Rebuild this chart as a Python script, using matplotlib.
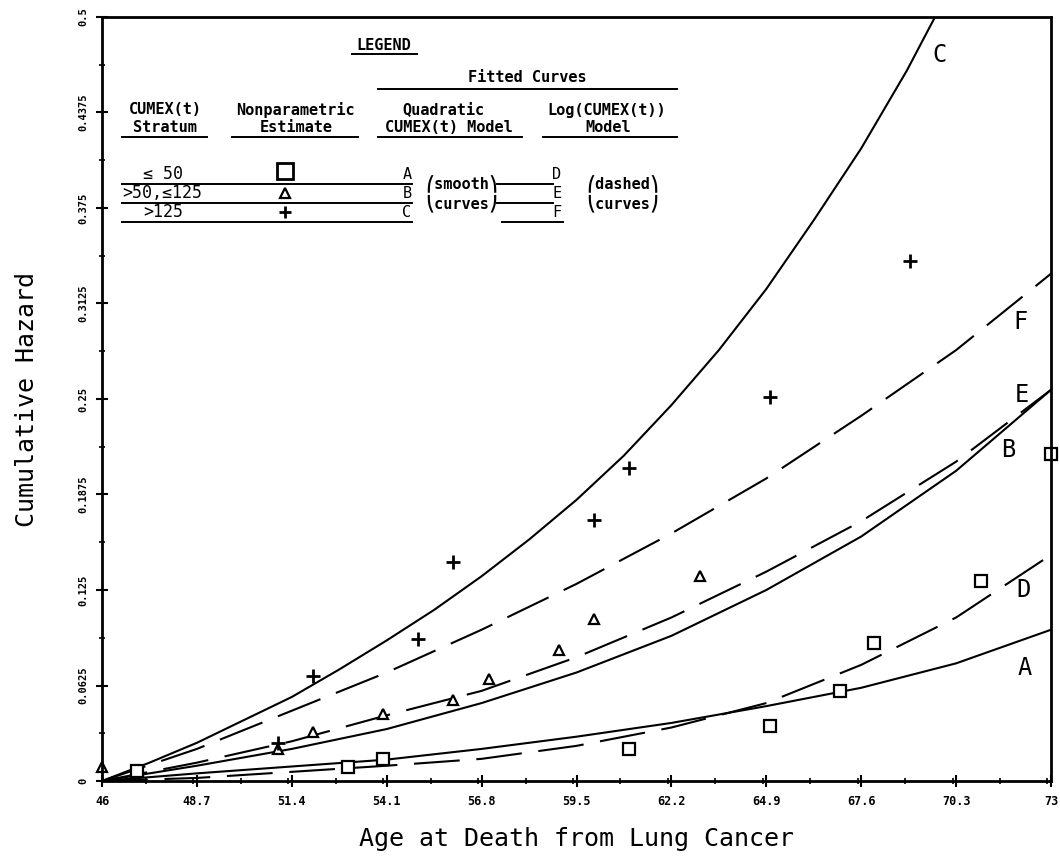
import matplotlib
matplotlib.use("Agg")
import matplotlib.pyplot as plt
from matplotlib.lines import Line2D
from matplotlib.ticker import MultipleLocator, FixedLocator

# ages at which the fitted curves were tabulated
age = [46, 48.7, 51.4, 54.1, 56.8, 59.5, 62.2, 64.9, 67.6, 70.3, 73]

# quadratic CUMEX(t) model (smooth curves)
curve_a = [0, 0.005, 0.0095, 0.014, 0.021, 0.029, 0.038, 0.049, 0.061, 0.077, 0.099]
curve_b = [0, 0.010, 0.021, 0.034, 0.051, 0.071, 0.095, 0.125, 0.160, 0.203, 0.256]
age_c = [46, 47.35, 48.7, 50.05, 51.4, 52.75, 54.1, 55.45, 56.8, 58.15, 59.5,
         60.85, 62.2, 63.55, 64.9, 66.25, 67.6, 68.9, 69.7]
curve_c = [0, 0.012, 0.025, 0.040, 0.055, 0.073, 0.092, 0.112, 0.134, 0.158, 0.184,
           0.213, 0.246, 0.282, 0.322, 0.367, 0.414, 0.465, 0.500]

# log(CUMEX(t)) model (dashed curves)
curve_d = [0, 0.002, 0.006, 0.010, 0.0145, 0.023, 0.035, 0.051, 0.076, 0.107, 0.148]
curve_e = [0, 0.012, 0.026, 0.043, 0.059, 0.081, 0.107, 0.137, 0.170, 0.209, 0.256]
curve_f = [0, 0.021, 0.046, 0.071, 0.099, 0.129, 0.162, 0.198, 0.239, 0.282, 0.332]

# nonparametric estimates per CUMEX(t) stratum
sq_age = [47.0, 53.0, 54.0, 61.0, 65.0, 67.0, 67.95, 71.0, 73.0]
sq_hz = [0.0065, 0.0094, 0.0145, 0.021, 0.036, 0.059, 0.090, 0.131, 0.214]
tri_age = [46.0, 51.0, 52.0, 54.0, 56.0, 57.0, 59.0, 60.0, 63.0]
tri_hz = [0.0094, 0.021, 0.032, 0.044, 0.053, 0.067, 0.086, 0.106, 0.134]
plus_age = [51.0, 52.0, 55.0, 56.0, 60.0, 61.0, 65.0, 69.0]
plus_hz = [0.025, 0.069, 0.093, 0.143, 0.171, 0.205, 0.251, 0.340]

xticks = [46, 48.7, 51.4, 54.1, 56.8, 59.5, 62.2, 64.9, 67.6, 70.3, 73]
xticklabels = ['46', '48.7', '51.4', '54.1', '56.8', '59.5', '62.2', '64.9', '67.6', '70.3', '73']
yticks = [0, 0.0625, 0.125, 0.1875, 0.25, 0.3125, 0.375, 0.4375, 0.5]
yticklabels = ['0', '0.0625', '0.125', '0.1875', '0.25', '0.3125', '0.375', '0.4375', '0.5']

MONO = 'DejaVu Sans Mono'
W, H = 1060, 863

fig = plt.figure(figsize=(W / 100, H / 100), dpi=100)
ax = fig.add_axes([102 / W, 1 - 781 / H, 949 / W, 764 / H])

dash = (0, (22, 8))
lw = 1.5
ax.plot(age, curve_a, color='k', lw=lw)
ax.plot(age, curve_b, color='k', lw=lw)
ax.plot(age_c, curve_c, color='k', lw=lw)
ax.plot(age, curve_d, color='k', lw=lw, linestyle=dash)
ax.plot(age, curve_e, color='k', lw=lw, linestyle=dash)
ax.plot(age, curve_f, color='k', lw=lw, linestyle=dash)

ax.plot(sq_age, sq_hz, 's', ms=8, mfc='white', mec='k', mew=1.6, clip_on=False)
ax.plot(tri_age, tri_hz, '^', ms=7, mfc='white', mec='k', mew=1.6, clip_on=False)
ax.plot(plus_age, plus_hz, '+', ms=10, mew=2, color='k', clip_on=False)

ax.set_xlim(46, 73)
ax.set_ylim(0, 0.5)
ax.xaxis.set_major_locator(FixedLocator(xticks))
ax.set_xticklabels(xticklabels, fontfamily=MONO, fontweight='bold', fontsize=8.5)
ax.xaxis.set_minor_locator(MultipleLocator(1.35))
ax.yaxis.set_major_locator(FixedLocator(yticks))
ax.set_yticklabels(yticklabels, fontfamily=MONO, fontweight='bold', fontsize=7.5)
ax.yaxis.set_minor_locator(MultipleLocator(0.03125))
for lab in ax.get_yticklabels():
    lab.set_rotation(90)
    lab.set_va('center')
    lab.set_ha('right')

ax.tick_params(which='major', direction='inout', length=8, width=1.5, pad=6)
ax.tick_params(which='minor', direction='inout', length=5, width=1.2)
for sp in ax.spines.values():
    sp.set_linewidth(2)

ax.set_xlabel('Age at Death from Lung Cancer', fontfamily=MONO, fontsize=18, labelpad=14)
ax.set_ylabel('Cumulative Hazard', fontfamily=MONO, fontsize=18)
ax.yaxis.set_label_coords(-0.066, 0.5)

# curve letters at the right-hand ends
for letter, px, py in [('C', 940, 55), ('F', 1021, 322), ('E', 1022, 395),
                       ('B', 1008, 450), ('D', 1024, 590), ('A', 1025, 668)]:
    fig.text(px / W, 1 - py / H, letter, fontfamily=MONO, fontsize=17,
             ha='center', va='center')


# legend block, laid out in pixel positions from the top-left corner
def txt(px, py, s, size=11, weight='bold', ha='center'):
    fig.text(px / W, 1 - py / H, s, fontfamily=[MONO, 'DejaVu Sans'], fontsize=size,
             fontweight=weight, ha=ha, va='center')


def rule(x0, x1, py, w=1.4):
    fig.add_artist(Line2D([x0 / W, x1 / W], [1 - py / H, 1 - py / H],
                          color='k', lw=w, transform=fig.transFigure))


txt(384, 45, 'LEGEND')
rule(352, 417, 54)
txt(527, 78, 'Fitted Curves')
rule(378, 677, 89)

txt(165, 110, 'CUMEX(t)')
txt(165, 127, 'Stratum')
rule(122, 207, 137)
txt(295, 110, 'Nonparametric')
txt(296, 127, 'Estimate')
rule(232, 358, 137)
txt(443, 110, 'Quadratic')
txt(449, 127, 'CUMEX(t) Model')
rule(378, 522, 137)
txt(607, 110, 'Log(CUMEX(t))')
txt(608, 127, 'Model')
rule(543, 677, 137)

rows = [174, 193, 212]
strata = ['≤ 50', '>50,≤125', '>125']
strata_x = [143, 122, 143]
for r, s, sx in zip(rows, strata, strata_x):
    txt(sx, r, s, size=12, weight='normal', ha='left')
    rule(122, 412, r + 10)

fig.add_artist(Line2D([285 / W], [1 - 171 / H], marker='s', ms=11, mfc='white',
                      mec='k', mew=2, transform=fig.transFigure))
fig.add_artist(Line2D([285 / W], [1 - 193 / H], marker='^', ms=7, mfc='white',
                      mec='k', mew=1.6, transform=fig.transFigure))
fig.add_artist(Line2D([285 / W], [1 - 212 / H], marker='+', ms=9, mew=2,
                      color='k', transform=fig.transFigure))

for r, a, b in zip(rows, 'ABC', 'DEF'):
    txt(407, r, a, size=11, weight='normal')
    txt(557, r, b, size=11, weight='normal')
rule(502, 563, 222)

txt(462, 184, '⎛smooth⎞')
txt(462, 203, '⎝curves⎠')
rule(497, 553, 184)
rule(497, 553, 203)
txt(623, 184, '⎛dashed⎞')
txt(623, 203, '⎝curves⎠')

fig.savefig('out.png', dpi=100)
